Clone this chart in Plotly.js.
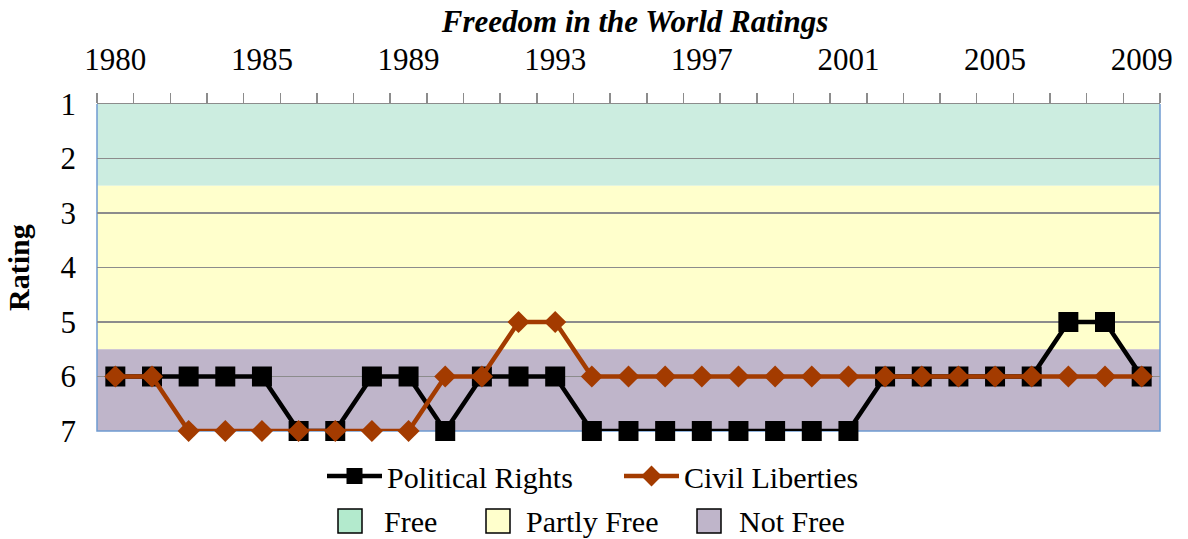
<!DOCTYPE html>
<html>
<head>
<meta charset="utf-8">
<script src="https://cdn.plot.ly/plotly-3.0.1.min.js"></script>
<style>html,body{margin:0;padding:0;background:#fff;}#chart{width:1188px;height:539px;}</style>
</head>
<body>
<div id="chart"></div>
<script>
// ---- data ----
var years = ['1980','1981','1982','1983','1985','1986','1987','1988','1989','1990','1991','1992','1993','1994','1995','1996','1997','1998','1999','2000','2001','2002','2003','2004','2005','2006','2007','2008','2009'];
var politicalRights = [6,6,6,6,6,7,7,6,6,7,6,6,6,7,7,7,7,7,7,7,7,6,6,6,6,6,5,5,6];
var civilLiberties  = [6,6,7,7,7,7,7,7,7,6,6,5,5,6,6,6,6,6,6,6,6,6,6,6,6,6,6,6,6];
var labelYears = ['1980','1985','1989','1993','1997','2001','2005','2009'];
var ratingTicks = [1,2,3,4,5,6,7];
var bandNames = ['Free','Partly Free','Not Free'];
var bandFrom = [1, 2.5, 5.5];
var bandTo = [2.5, 5.5, 7];
var bandColors = ['#ccede0','#ffffcc','#bfb5ca'];
var bandLegendColors = ['#b3eacd','#ffffcc','#bfb5ca'];

// ---- layout helpers ----
var W = 1188, H = 539, L = 97, R = 1160, T = 104, B = 431;
function px(x){ return (x - L) / (R - L); }
function py(y){ return (B - y) / (B - T); }
var FONT = 'Liberation Serif, Times New Roman, serif';

var tickText = years.map(function(y){ return labelYears.indexOf(y) >= 0 ? y : ''; });

var traces = [
  {x: years, y: politicalRights, name: 'Political Rights', type: 'scatter', mode: 'lines+markers',
   line: {color: '#000000', width: 4.5}, marker: {symbol: 'square', size: 20, color: '#000000'},
   cliponaxis: false},
  {x: years, y: civilLiberties, name: 'Civil Liberties', type: 'scatter', mode: 'lines+markers',
   line: {color: '#a33b00', width: 4.5}, marker: {symbol: 'diamond', size: 17, color: '#a33b00'},
   cliponaxis: false}
];

var shapes = [];
for (var i = 0; i < bandNames.length; i++) {
  shapes.push({type: 'rect', xref: 'paper', yref: 'y', x0: 0, x1: 1, y0: bandFrom[i], y1: bandTo[i],
    fillcolor: bandColors[i], line: {width: 0}, layer: 'below'});
}
// plot border (left, right, bottom) in blue
shapes.push({type: 'path', xref: 'paper', yref: 'paper', path: 'M0,1 L0,0 L1,0 L1,1',
  line: {color: '#6f9bd1', width: 1.5}, layer: 'below'});

var annotations = [
  {text: '<b>Rating</b>', xref: 'paper', yref: 'paper', x: px(18), y: py(268), textangle: -90,
   showarrow: false, xanchor: 'center', yanchor: 'middle', font: {family: FONT, size: 30, color: '#000'}}
];
// second legend row: band boxes
var boxLeft = [338, 486, 697];
var textLeft = [384, 526, 739];
for (var j = 0; j < bandNames.length; j++) {
  shapes.push({type: 'rect', xref: 'paper', yref: 'paper', x0: px(boxLeft[j]), x1: px(boxLeft[j] + 24),
    y0: py(533), y1: py(509), fillcolor: bandLegendColors[j], line: {color: '#000', width: 1.5}});
  annotations.push({text: bandNames[j], xref: 'paper', yref: 'paper', x: px(textLeft[j] - 2), y: py(521),
    xanchor: 'left', yanchor: 'middle', showarrow: false, font: {family: FONT, size: 30, color: '#000'}});
}

var layout = {
  width: W, height: H,
  margin: {l: L, r: W - R, t: T, b: H - B, pad: 0},
  paper_bgcolor: '#ffffff', plot_bgcolor: 'rgba(0,0,0,0)',
  font: {family: FONT, size: 30, color: '#000'},
  title: {text: '<b><i>Freedom in the World Ratings</i></b>', x: 635 / W, xref: 'container',
    y: 1 - 21 / H, yref: 'container', xanchor: 'center', yanchor: 'middle',
    font: {family: FONT, size: 31, color: '#000'}},
  showlegend: true,
  legend: {orientation: 'h', x: px(322), xanchor: 'left', y: py(476), yanchor: 'middle',
    font: {family: FONT, size: 30, color: '#000'}, itemwidth: 55, entrywidth: 227, entrywidthmode: 'pixels',
    bgcolor: 'rgba(0,0,0,0)', tracegroupgap: 0},
  xaxis: {type: 'category', side: 'top', categoryorder: 'array', categoryarray: years,
    range: [-0.5, years.length - 0.5], tickmode: 'array', tickvals: years, ticktext: tickText,
    tickangle: 0, tickson: 'boundaries', ticks: 'outside', ticklen: 10, tickwidth: 1.5, tickcolor: '#8c8c8c',
    showline: true, linecolor: '#8c8c8c', linewidth: 1.5, showgrid: false, zeroline: false,
    ticklabelstandoff: 20, tickfont: {family: FONT, size: 31, color: '#000'}, fixedrange: true},
  yaxis: {range: [7, 1], tickmode: 'array', tickvals: ratingTicks, ticks: '', showline: false,
    showgrid: true, gridcolor: '#8c8c8c', gridwidth: 1.5, zeroline: false, ticklabelstandoff: 20,
    tickfont: {family: FONT, size: 31, color: '#000'}, fixedrange: true},
  shapes: shapes,
  annotations: annotations
};

Plotly.newPlot('chart', traces, layout, {displayModeBar: false, staticPlot: true});
</script>
</body>
</html>
